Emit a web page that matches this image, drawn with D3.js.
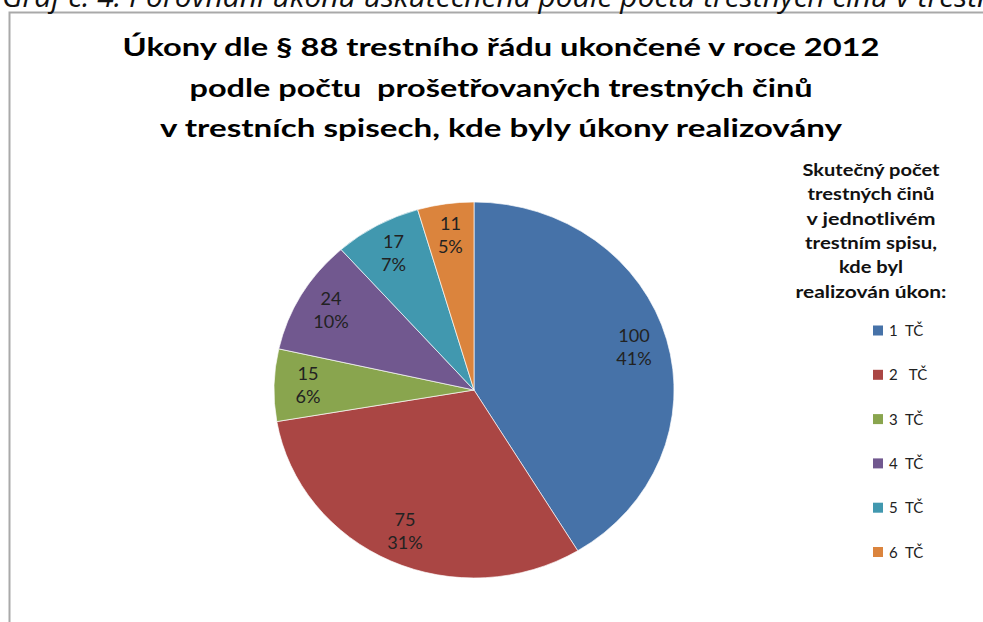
<!DOCTYPE html>
<html lang="cs">
<head>
<meta charset="utf-8">
<script src="https://cdn.jsdelivr.net/npm/d3@7"></script>
<style>
  html, body { margin: 0; padding: 0; background: #fff; overflow: hidden; }
  svg { display: block; }
  text { white-space: pre; }
</style>
</head>
<body>
<svg id="chart" width="983" height="622"></svg>
<script>
// ---- data ----
const captionText = "Graf č. 4: Porovnání úkonů uskutečněná podle počtu trestných činů v trestních spisech";
const titleLines = [
  "Úkony dle § 88 trestního řádu ukončené v roce 2012",
  "podle počtu  prošetřovaných trestných činů",
  "v trestních spisech, kde byly úkony realizovány"
];
const legendTitleLines = [
  "Skutečný počet",
  "trestných činů",
  "v jednotlivém",
  "trestním spisu,",
  "kde byl",
  "realizován úkon:"
];
const categories = ["1  TČ", "2   TČ", "3  TČ", "4  TČ", "5  TČ", "6  TČ"];
const values = [100, 75, 15, 24, 17, 11];
const colors = ["#4672A8", "#AA4644", "#89A54E", "#71588F", "#4198AF", "#DB843D"];

// ---- layout ----
const svg = d3.select("#chart");
const W = 983, H = 622;

// frame (extends beyond the right/bottom edges)
svg.append("rect")
  .attr("x", 9.5).attr("y", 12.5)
  .attr("width", W + 20).attr("height", H + 20)
  .attr("fill", "#fff")
  .attr("stroke", "#a9a9a9").attr("stroke-width", 2);

// caption (mostly cut off at top, as in the source)
svg.append("text")
  .attr("x", 2).attr("y", 7)
  .attr("font-family", "'Open Sans', sans-serif")
  .attr("font-style", "italic")
  .attr("font-size", 30)
  .attr("fill", "#111")
  .text(captionText);

// title
const titleWidths = [757, 623, 682];
const titleBase = [56, 97, 137];
svg.append("g").selectAll("text")
  .data(titleLines)
  .join("text")
  .attr("x", 501)
  .attr("y", (d, i) => titleBase[i])
  .attr("text-anchor", "middle")
  .attr("font-family", "Lato, 'Open Sans', sans-serif")
  .attr("font-weight", 700)
  .attr("font-size", 24)
  .attr("fill", "#000")
  .attr("textLength", (d, i) => titleWidths[i])
  .attr("lengthAdjust", "spacingAndGlyphs")
  .text(d => d);

// pie
const R = 188, sx = 1.064;
const cx = 474, cy = 390;
const total = d3.sum(values);
const color = d3.scaleOrdinal().domain(categories).range(colors);
const pie = d3.pie().sort(null).value(d => d.v);
const data = categories.map((c, i) => ({ c, v: values[i] }));
const arcs = pie(data);
const arc = d3.arc().innerRadius(0).outerRadius(R);
const labelArc = d3.arc().innerRadius(R * 0.83).outerRadius(R * 0.83);

const g = svg.append("g").attr("transform", `translate(${cx},${cy}) scale(${sx},1)`);
g.selectAll("path")
  .data(arcs)
  .join("path")
  .attr("d", arc)
  .attr("fill", d => color(d.data.c))
  .attr("stroke", "#ffffff")
  .attr("stroke-width", 0.8)
  .attr("stroke-opacity", 0.8);

const lab = g.selectAll("g.lab")
  .data(arcs)
  .join("g")
  .attr("class", "lab")
  .attr("transform", d => `translate(${labelArc.centroid(d)})`);
lab.append("text")
  .attr("y", -5.5)
  .attr("text-anchor", "middle")
  .attr("font-family", "Lato, sans-serif")
  .attr("font-size", 17)
  .attr("fill", "#222")
  .text(d => d.data.v);
lab.append("text")
  .attr("y", 17.5)
  .attr("text-anchor", "middle")
  .attr("font-family", "Lato, sans-serif")
  .attr("font-size", 17)
  .attr("fill", "#222")
  .text(d => Math.round(d.data.v / total * 100) + "%");

// legend title
const ltWidths = [137, 127, 129, 132, 64, 151];
const ltY = d3.scaleLinear().domain([0, legendTitleLines.length - 1]).range([176, 297.5]);
svg.append("g").selectAll("text")
  .data(legendTitleLines)
  .join("text")
  .attr("x", 871)
  .attr("y", (d, i) => ltY(i))
  .attr("text-anchor", "middle")
  .attr("font-family", "Lato, sans-serif")
  .attr("font-weight", 700)
  .attr("font-size", 17)
  .attr("fill", "#111")
  .attr("textLength", (d, i) => ltWidths[i])
  .attr("lengthAdjust", "spacingAndGlyphs")
  .text(d => d);

// legend items
const ly = d3.scalePoint().domain(categories).range([330.5, 552]);
const li = svg.append("g").selectAll("g")
  .data(categories)
  .join("g")
  .attr("transform", d => `translate(873,${ly(d)})`);
li.append("rect")
  .attr("x", 0).attr("y", -5)
  .attr("width", 10).attr("height", 10)
  .attr("fill", d => color(d));
li.append("text")
  .attr("x", 16).attr("y", 5.5)
  .attr("font-family", "Lato, sans-serif")
  .attr("font-size", 15)
  .attr("fill", "#222")
  .text(d => d);
</script>
</body>
</html>
